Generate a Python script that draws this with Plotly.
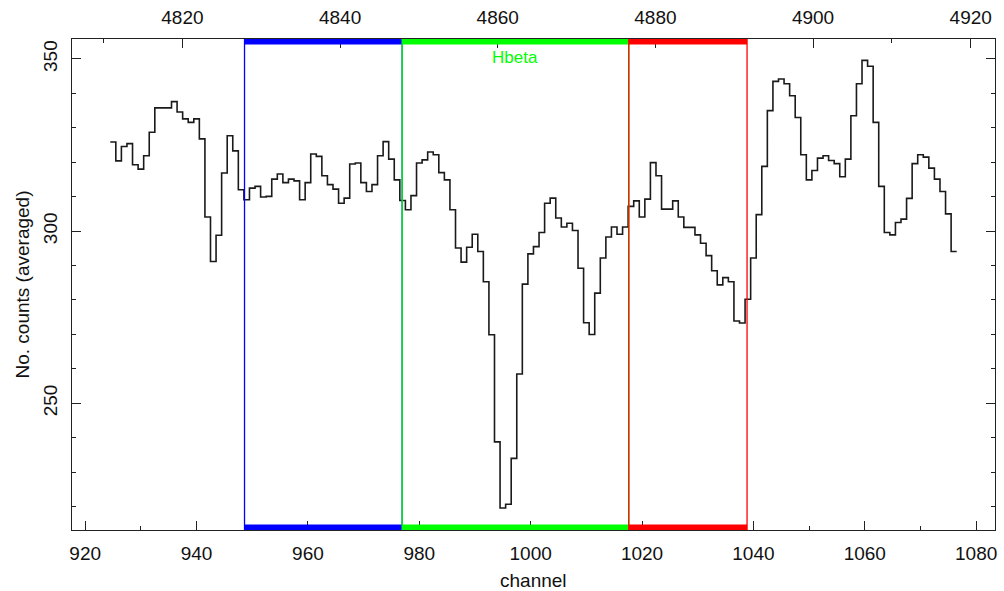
import numpy as np
import plotly.graph_objects as go

# ---------------- data ----------------
channels = list(range(925, 1077))
counts = [
    325.9, 320.4, 324.6, 325.4, 319.3, 318.0, 321.9, 328.7, 335.8, 335.8,   # 925-934
    335.8, 337.6, 334.6, 332.6, 331.6, 332.6, 326.8, 304.1, 291.2, 298.8,   # 935-944
    316.9, 327.7, 323.3, 312.0, 309.1, 312.5, 313.0, 309.9, 310.1, 315.1,   # 945-954
    316.6, 314.1, 315.1, 314.6, 309.1, 314.1, 322.4, 321.7, 316.1, 313.5,   # 955-964
    312.2, 308.1, 309.6, 319.5, 319.8, 314.1, 311.5, 313.5, 321.9, 326.0,   # 965-974
    320.9, 314.9, 308.9, 306.2, 310.3, 319.8, 320.7, 323.0, 322.2, 317.0,   # 975-984
    314.9, 306.2, 295.1, 291.0, 295.3, 299.1, 294.1, 285.3, 269.9, 238.8,   # 985-994
    219.6, 220.7, 234.0, 258.5, 284.6, 293.4, 295.5, 299.6, 308.1, 309.6,   # 995-1004
    303.8, 301.2, 302.3, 300.2, 289.2, 273.4, 270.0, 282.0, 292.2, 298.3,   # 1005-1014
    301.2, 299.1, 301.2, 307.2, 308.8, 304.1, 309.3, 319.9, 316.1, 306.4,   # 1015-1024
    306.4, 308.8, 304.1, 301.1, 301.1, 298.9, 296.5, 292.9, 288.5, 284.4,   # 1025-1034
    286.5, 285.3, 273.9, 273.3, 280.2, 292.2, 304.8, 318.8, 335.0, 343.5,   # 1035-1044
    344.2, 342.8, 339.3, 333.0, 322.2, 314.9, 317.6, 321.2, 321.9, 320.5,   # 1045-1054
    319.6, 315.8, 320.9, 333.5, 342.8, 349.6, 347.9, 331.6, 313.0, 299.6,   # 1055-1064
    298.9, 302.5, 303.5, 309.5, 319.6, 322.2, 321.5, 318.3, 315.1, 311.5,   # 1065-1074
    305.0, 294.1,                                                           # 1075-1076
]

channel_ticks = [920, 940, 960, 980, 1000, 1020, 1040, 1060, 1080]
wavelength_ticks = [4820, 4840, 4860, 4880, 4900, 4920]
count_ticks = [250, 300, 350]

channel_range = [917.63, 1083.38]
wavelength_range = [4805.99, 4923.08]
count_range = [213.2, 355.8]

# Lick H-beta index windows (Angstrom)
band_names = ["blue", "Hbeta", "red"]
band_lo = [4827.875, 4847.875, 4876.625]
band_hi = [4847.875, 4876.625, 4891.625]
band_label = ["", "Hbeta", ""]

# ---------------- styles ----------------
band_colors = ["#0000ff", "#00ff00", "#ff0000"]
FONT = "Liberation Sans"
W, H = 1004, 591
ML, MR, MT, MB = 72, 9, 39, 61
PH = H - MT - MB
BAR = 5.5 / PH

# histogram steps derived from the data (bins centred on channels)
x_step = np.append(np.array(channels) - 0.5, channels[-1] + 0.5)
y_step = counts + [counts[-1]]

fig = go.Figure()
fig.add_trace(go.Scatter(
    x=x_step, y=y_step, mode="lines",
    line=dict(color="#1a1a1a", width=1.6, shape="hv"),
    xaxis="x", yaxis="y", showlegend=False, hoverinfo="skip",
))
# invisible trace so that the top axis is shown
fig.add_trace(go.Scatter(x=[wavelength_range[0]], y=[count_range[0]], mode="markers",
                         marker=dict(opacity=0), xaxis="x2", yaxis="y",
                         showlegend=False, hoverinfo="skip"))

shapes = []
annotations = []
for lo, hi, col, lab in zip(band_lo, band_hi, band_colors, band_label):
    for xv in (lo, hi):
        shapes.append(dict(type="line", xref="x2", yref="paper", x0=xv, x1=xv, y0=0, y1=1,
                           line=dict(color=col, width=1.3)))
    shapes.append(dict(type="rect", xref="x2", yref="paper", x0=lo, x1=hi, y0=1 - BAR, y1=1,
                       fillcolor=col, line=dict(width=0)))
    shapes.append(dict(type="rect", xref="x2", yref="paper", x0=lo, x1=hi, y0=0, y1=BAR,
                       fillcolor=col, line=dict(width=0)))
    if lab:
        annotations.append(dict(text=lab, xref="x2", yref="paper", x=(lo + hi) / 2, y=1,
                                yanchor="middle", xanchor="center",
                                yshift=-18, showarrow=False,
                                font=dict(family=FONT, size=17, color=col)))

annotations.append(dict(text="channel", xref="paper", yref="paper", x=0.5, y=0,
                        xanchor="center", yanchor="middle",
                        yshift=-50, showarrow=False,
                        font=dict(family=FONT, size=19, color="#111")))
annotations.append(dict(text="No. counts (averaged)", xref="paper", yref="paper",
                        x=0, xshift=-50, y=0.5, xanchor="center", yanchor="middle",
                        textangle=-90, showarrow=False,
                        font=dict(family=FONT, size=19, color="#111")))

axis_common = dict(
    showgrid=False, zeroline=False, showline=True, linecolor="#222", linewidth=1.2,
    ticks="inside", ticklen=9, tickwidth=1.2, tickcolor="#222",
    tickfont=dict(family=FONT, size=19, color="#111"),
)

fig.update_layout(
    width=W, height=H,
    margin=dict(l=ML, r=MR, t=MT, b=MB, autoexpand=False),
    plot_bgcolor="white", paper_bgcolor="white",
    xaxis=dict(range=channel_range, tickvals=channel_ticks,
               minor=dict(dtick=10, tick0=920, ticks="inside", ticklen=4, tickcolor="#222"),
               ticklabelstandoff=6, **axis_common),
    xaxis2=dict(range=wavelength_range, overlaying="x", side="top", anchor="y",
                tickvals=wavelength_ticks,
                minor=dict(dtick=10, tick0=4820, ticks="inside", ticklen=4, tickcolor="#222"),
                ticklabelstandoff=6, **axis_common),
    yaxis=dict(range=count_range, tickvals=count_ticks, tickangle=-90, mirror="ticks",
               minor=dict(dtick=10, tick0=250, ticks="inside", ticklen=4, tickcolor="#222"),
               ticklabelstandoff=6, **axis_common),
    shapes=shapes, annotations=annotations,
)

fig.write_html("out.html")
